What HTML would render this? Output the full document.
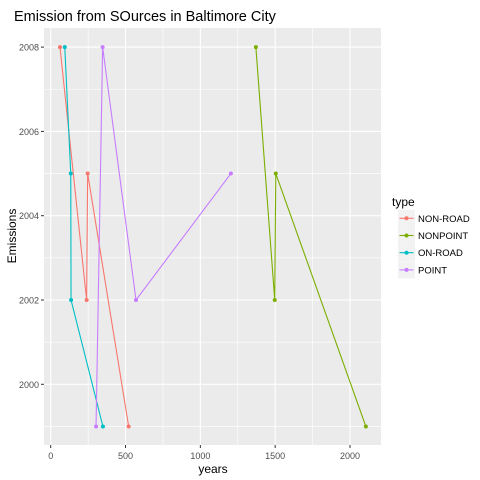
<!DOCTYPE html>
<html><head><meta charset="utf-8"><style>body{margin:0;background:#fff}svg{display:block;font-family:"Liberation Sans",sans-serif}</style></head>
<body>
<svg id="chart" width="480" height="480">
<rect width="480" height="480" fill="#fff"/>
<text x="14" y="21" font-size="14.5" fill="#000">Emission from SOurces in Baltimore City</text>
<rect x="44" y="28" width="337" height="417" fill="#EBEBEB"/>
<g id="grid"></g><g id="axes"></g><g id="series"></g>
<text x="213" y="473" font-size="12" text-anchor="middle">years</text>
<text transform="translate(16,236) rotate(-90)" font-size="12" text-anchor="middle">Emissions</text>
<g id="legend">
<text x="392" y="206" font-size="12">type</text>
</g>
</svg>
<script>
const types = ["NON-ROAD","NONPOINT","ON-ROAD","POINT"];
const colors = ["#F8766D","#7CAE00","#00BFC4","#C77CFF"];
const years = [1999,2002,2005,2008];
const nonRoad = [521,240,247,62];
const nonPoint = [2106,1497,1504,1371];
const onRoad = [349,136,134,94];
const pointSrc = [303,570,1204,347];
const xTicks = [0,500,1000,1500,2000];
const yTicks = [2000,2002,2004,2006,2008];
const NS="http://www.w3.org/2000/svg";
const X=v=>50.7+v*0.14965, Y=v=>384.3-(v-2000)*42.15;
function mk(t,a,p){const e=document.createElementNS(NS,t);for(const k in a)e.setAttribute(k,a[k]);p.appendChild(e);return e;}
const g=document.getElementById('grid'),ax=document.getElementById('axes'),s=document.getElementById('series'),lg=document.getElementById('legend');
for(let i=0;i<xTicks.length-1;i++){const m=(xTicks[i]+xTicks[i+1])/2;const l=mk('line',{x1:X(m),x2:X(m),y1:28,y2:445,stroke:'#fff','stroke-width':0.6},g);

}
for(let i=0;i<yTicks.length;i++){const m=yTicks[i]-1;const l=mk('line',{x1:44,x2:381,y1:Y(m),y2:Y(m),stroke:'#fff','stroke-width':0.6},g);

}
xTicks.forEach(v=>{const l=mk('line',{x1:X(v),x2:X(v),y1:28,y2:445,stroke:'#fff','stroke-width':1.1},g);


mk('line',{x1:X(v),x2:X(v),y1:445,y2:448,stroke:'#333'},ax);
const t=mk('text',{x:X(v),y:459,'font-size':9,fill:'#4D4D4D','text-anchor':'middle'},ax);t.textContent=v;

});
yTicks.forEach(v=>{const l=mk('line',{x1:44,x2:381,y1:Y(v),y2:Y(v),stroke:'#fff','stroke-width':1.1},g);


mk('line',{x1:41,x2:44,y1:Y(v),y2:Y(v),stroke:'#333'},ax);
const t=mk('text',{x:39,y:Y(v)+3.5,'font-size':9,fill:'#4D4D4D','text-anchor':'end'},ax);t.textContent=v;

});
[nonRoad,nonPoint,onRoad,pointSrc].forEach((vals,i)=>{
 const pts=vals.map((v,j)=>[v,years[j]]).sort((a,b)=>a[0]-b[0]);
 const p=mk('polyline',{points:pts.map(q=>X(q[0])+','+Y(q[1])).join(' '),fill:'none',stroke:colors[i],'stroke-width':1.1},s);
 
 
 pts.forEach(q=>{const c=mk('circle',{cx:X(q[0]),cy:Y(q[1]),r:2,fill:colors[i]},s);
 
 });
 const y=218.3+i*17.2;
 mk('rect',{x:398,y:y-8.5,width:17,height:17,fill:'#F2F2F2'},lg);
 mk('line',{x1:399.5,x2:413.5,y1:y,y2:y,stroke:colors[i],'stroke-width':1.1},lg);
 mk('circle',{cx:406.5,cy:y,r:2,fill:colors[i]},lg);
 const t=mk('text',{x:418,y:y+3.5,'font-size':9.5,fill:'#000'},lg);t.textContent=types[i];
 
 
});
</script>
</body></html>
